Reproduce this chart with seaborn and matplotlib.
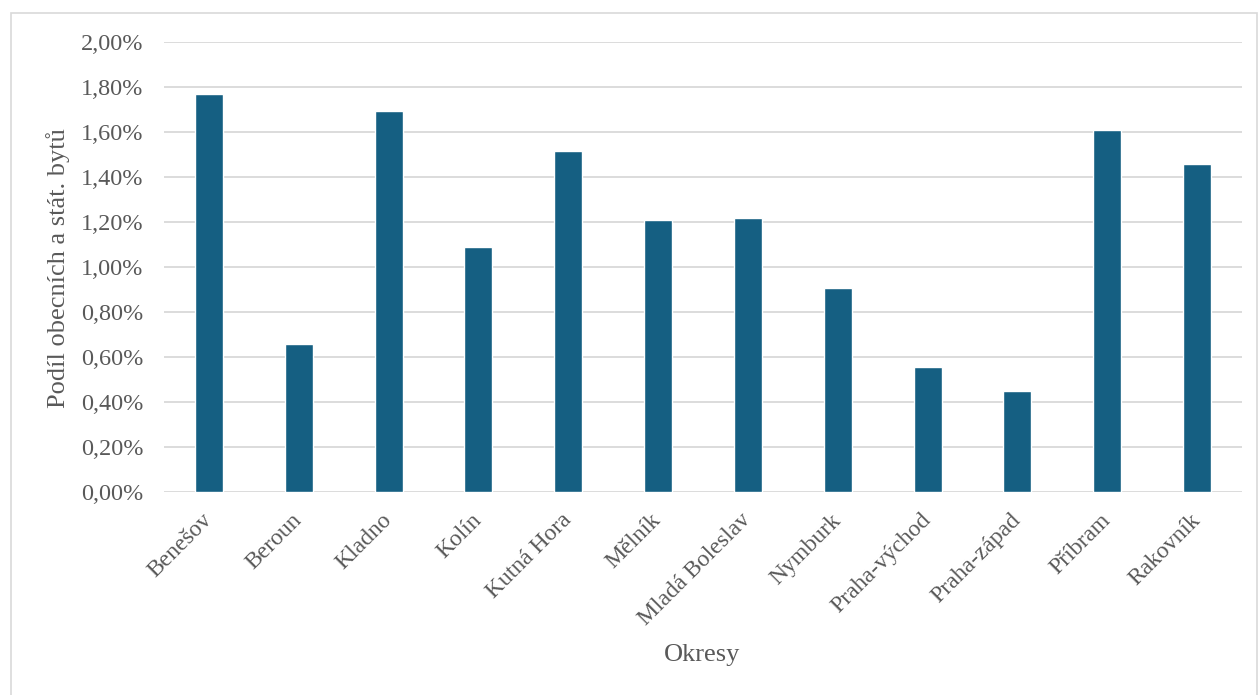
import matplotlib
matplotlib.use("Agg")
import matplotlib.pyplot as plt
import matplotlib.patches as mpatches
from matplotlib.ticker import FuncFormatter, MultipleLocator
import seaborn as sns
import pandas as pd

okresy = ["Benešov", "Beroun", "Kladno", "Kolín", "Kutná Hora", "Mělník",
          "Mladá Boleslav", "Nymburk", "Praha-východ", "Praha-západ",
          "Příbram", "Rakovník"]
podil = [1.77, 0.66, 1.695, 1.09, 1.515, 1.21, 1.22, 0.905, 0.555, 0.45, 1.61, 1.46]

df = pd.DataFrame({"Okresy": okresy, "Podil": podil})

sns.set_theme(style="white")
plt.rcParams["font.family"] = ["Liberation Serif", "DejaVu Serif"]

W, H = 1259, 695
fig = plt.figure(figsize=(W / 100, H / 100), dpi=100)
ax = fig.add_axes([164 / W, 1 - 492 / H, (1242 - 164) / W, (492 - 42) / H])

sns.barplot(data=df, x="Okresy", y="Podil", color="#155F82", saturation=1,
            width=0.31, ax=ax, zorder=3)

ax.set_ylim(0, 2.0)
ax.set_xlim(-0.5, len(okresy) - 0.5)
ax.yaxis.set_major_locator(MultipleLocator(0.2))
ax.yaxis.set_major_formatter(FuncFormatter(lambda v, p: f"{v:.2f}".replace(".", ",") + "%"))
ax.grid(axis="y", color="#D9D9D9", linewidth=1.3, zorder=0)
ax.set_axisbelow(True)
for s in ax.spines.values():
    s.set_visible(False)

txt = "#595959"
ax.tick_params(axis="y", length=0, colors=txt, labelsize=17.5, pad=15)
ax.tick_params(axis="x", length=0, colors=txt, labelsize=17, pad=18)
for lab in ax.get_xticklabels():
    lab.set_rotation(45)
    lab.set_ha("right")
    lab.set_va("center")
    lab.set_rotation_mode("anchor")

ax.set_xlabel("")
ax.set_ylabel("")
fig.text(702 / W, 1 - 655 / H, "Okresy", ha="center", va="center", fontsize=19, color=txt)
fig.text(58 / W, 1 - 268 / H, "Podíl obecních a stát. bytů", ha="center", va="center",
         rotation=90, fontsize=19, color=txt)

fig.patches.append(mpatches.Rectangle((11 / W, -0.05), (1257 - 11) / W, 1 - 13 / H + 0.05,
                                      transform=fig.transFigure, fill=False,
                                      edgecolor="#D9D9D9", linewidth=1.2))

fig.savefig("out.png", dpi=100, facecolor="white")
